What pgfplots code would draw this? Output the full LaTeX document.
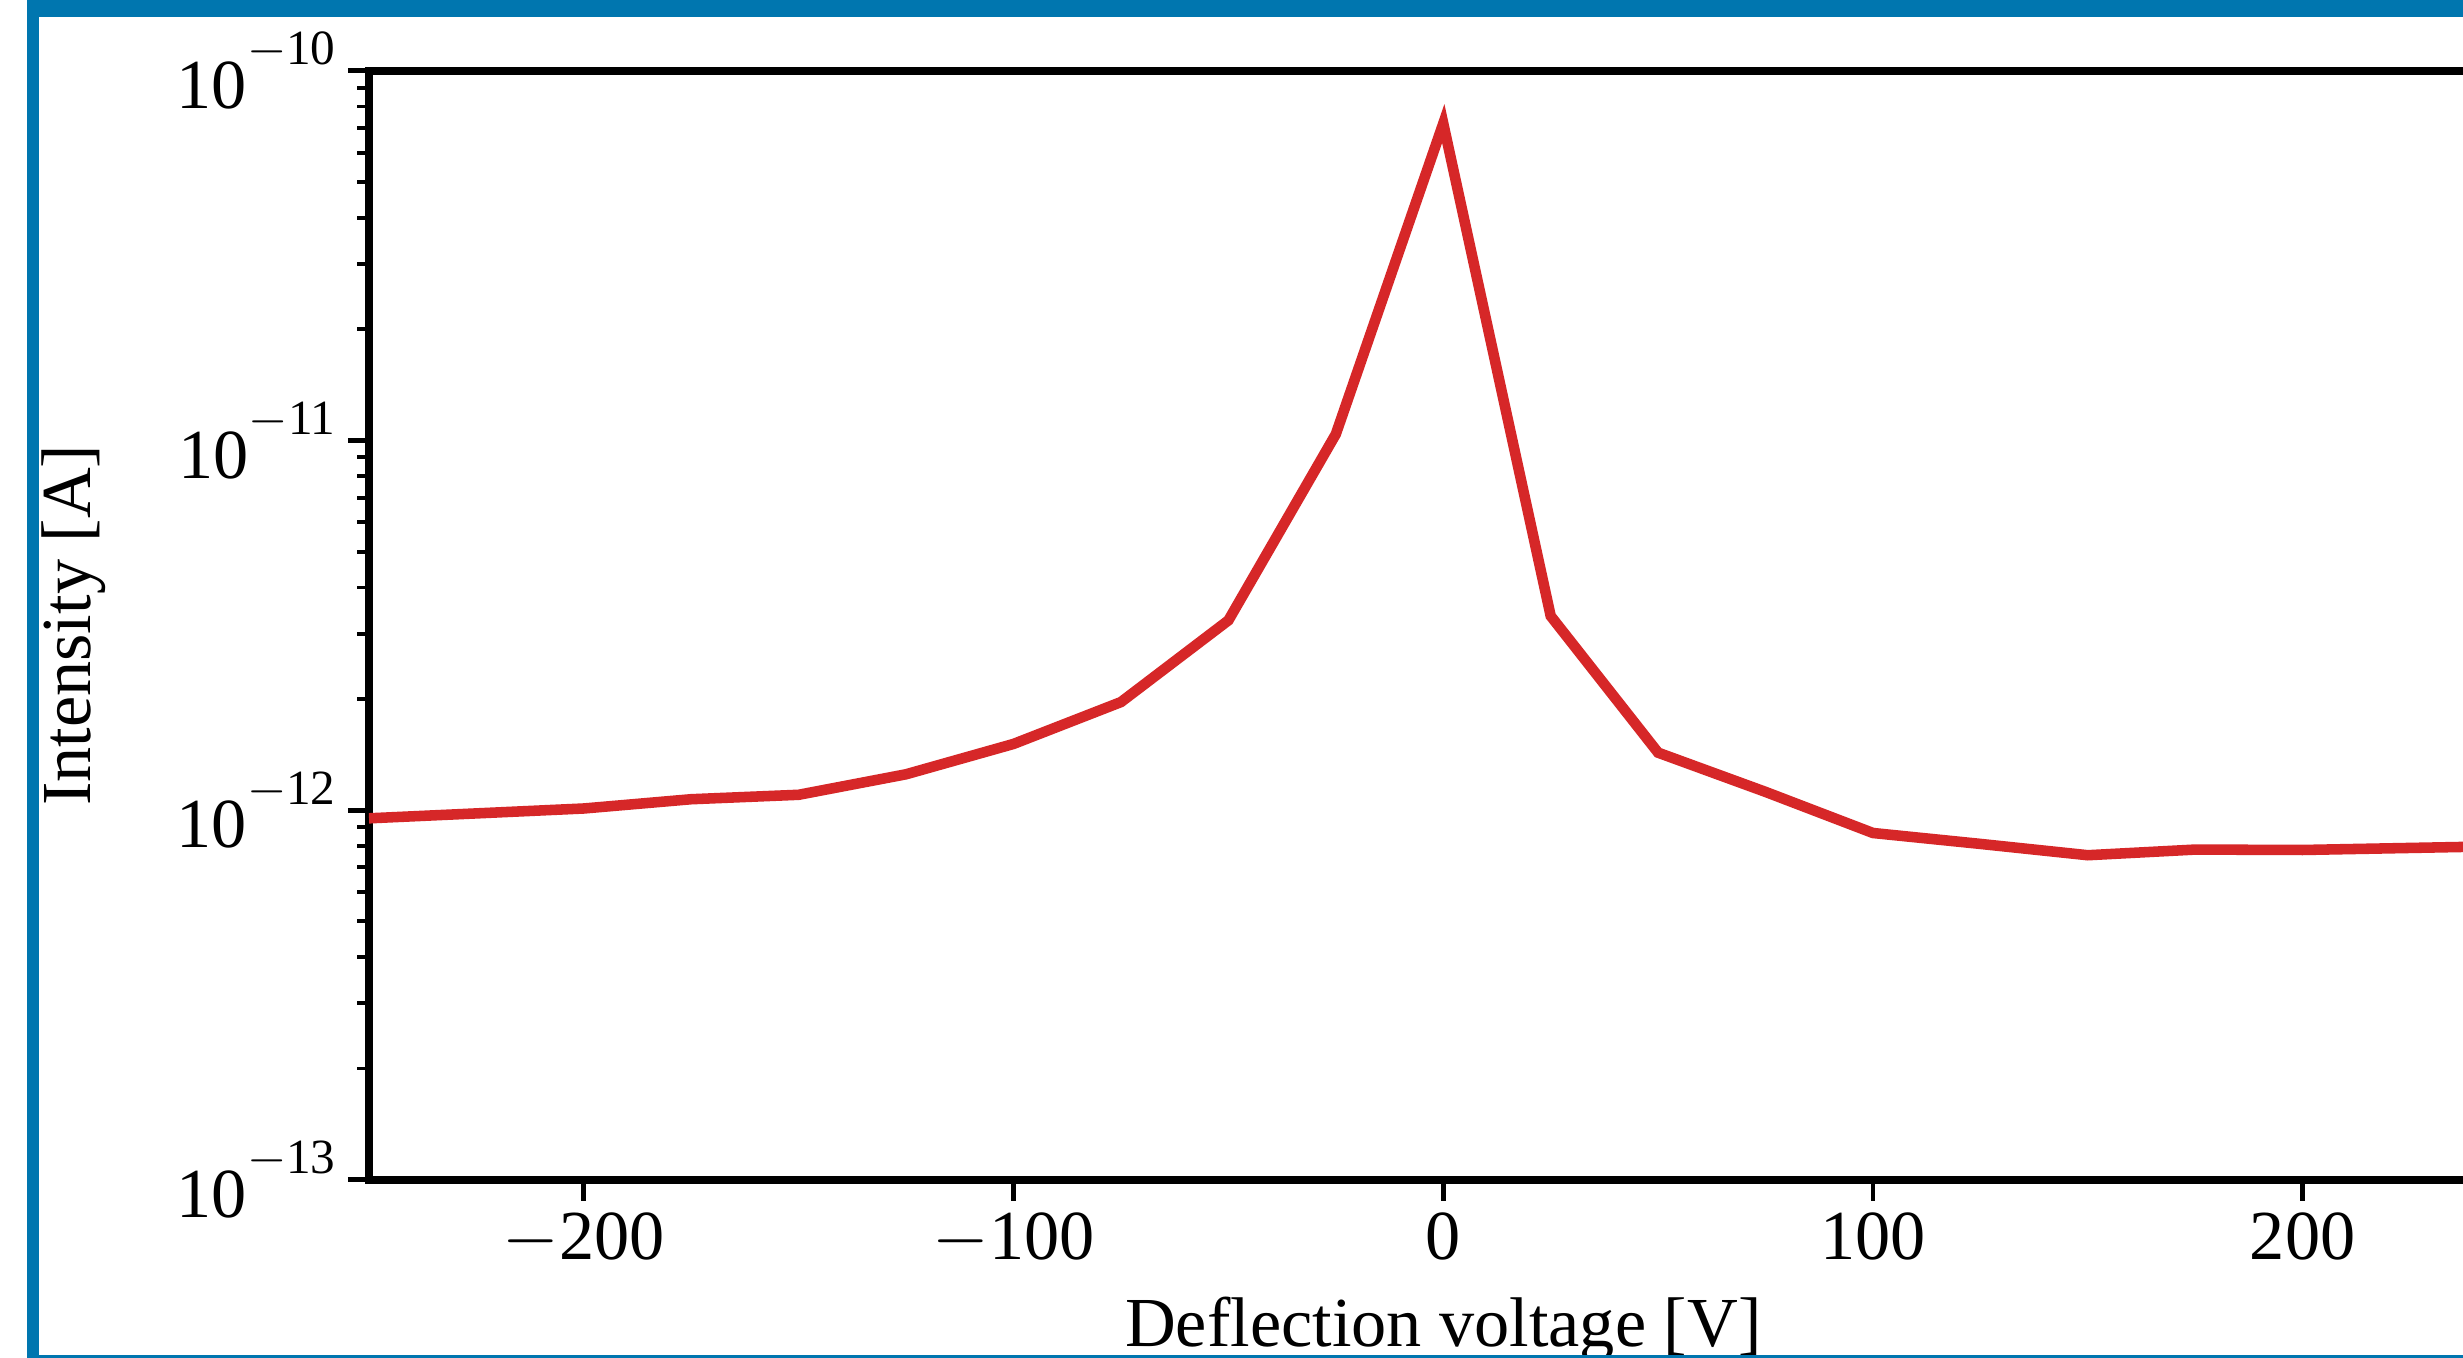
\documentclass[border=0pt]{standalone}
\usepackage{fontspec}
\setmainfont{Liberation Serif}
\usepackage{pgfplots}
\pgfplotsset{compat=1.18}
\definecolor{frameblue}{RGB}{0,118,175}
\definecolor{curvered}{HTML}{D62728}
\newcommand{\pw}[1]{10\raisebox{12.5pt}{\fontsize{14}{14}\selectfont$-$#1}}

\begin{document}
\begin{tikzpicture}
\clip (0,0) rectangle (24.63,13.58);
\fill[white] (0,0) rectangle (24.63,13.58);
\begin{axis}[
  at={(3.69cm,1.783cm)}, anchor=south west,
  scale only axis, width=21.485cm, height=11.09cm,
  xmin=-250, xmax=250, ymin=1e-13, ymax=1e-10,
  ymode=log,
  xtick={-200,-100,0,100,200},
  xticklabels={$-$200,$-$100,0,100,200},
  ytick={1e-13,1e-12,1e-11,1e-10},
  yticklabels={\pw{13},\pw{12},\pw{11},\pw{10}},
  xtick pos=bottom, ytick pos=left, tick align=outside,
  major tick length=0.21cm, minor tick length=0.12cm,
  axis line style={line width=2.2pt},
  every tick/.style={black, line width=1.4pt},
  minor tick style={line width=1.1pt},
  font=\fontsize{20}{24}\selectfont,
  xlabel={Deflection voltage [V]},
  ylabel={Intensity [A]},
  xlabel style={at={(axis description cs:0.5,0)}, anchor=base, yshift=-1.67cm},
  ylabel style={at={(axis description cs:-0.1294,0.5)}, anchor=base},
  clip=false,
]
\addplot[curvered, line width=3pt] coordinates {
  (-250,9.5e-13) (-200,1.01e-12) (-175,1.07e-12) (-150,1.10e-12)
  (-125,1.25e-12) (-100,1.51e-12) (-75,1.96e-12) (-50,3.26e-12)
  (-25,1.04e-11) (0,7.2e-11) (25,3.35e-12) (50,1.43e-12)
  (75,1.12e-12) (100,8.67e-13) (125,8.1e-13) (150,7.55e-13)
  (175,7.82e-13) (200,7.80e-13) (250,8.0e-13)
};
\end{axis}
\fill[frameblue] (0.27,0) rectangle (0.39,13.58);
\fill[frameblue] (0.27,13.41) rectangle (24.63,13.58);
\fill[frameblue] (0.27,0) rectangle (24.63,0.03);
\end{tikzpicture}
\end{document}
